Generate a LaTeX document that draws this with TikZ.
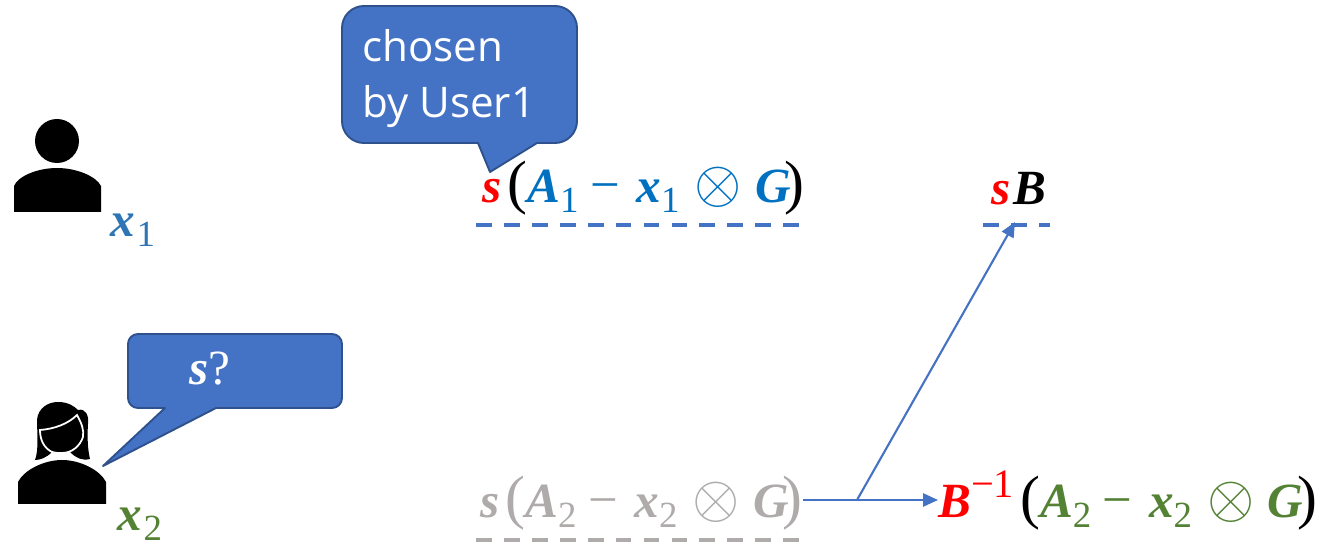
\documentclass[tikz,border=0pt]{standalone}
\usepackage{fontspec}
\setmainfont{Liberation Serif}
\newfontfamily\labelfont{Open Sans}
\usetikzlibrary{arrows.meta}

\definecolor{bubblefill}{HTML}{4472C4}
\definecolor{bubbleedge}{HTML}{2F528F}
\definecolor{userblue}{HTML}{0070C0}
\definecolor{labelblue}{HTML}{2E75B6}
\definecolor{usergreen}{HTML}{548235}
\definecolor{fadedgray}{HTML}{AFABAB}

\newcommand{\mv}[1]{\textbf{\textit{#1}}}
\newcommand{\idx}[1]{\raisebox{-0.2em}{\fontsize{21}{21}\selectfont #1}}
\newcommand{\opena}{\hspace{3.4pt}{\fontsize{34}{34}\selectfont (}}
\newcommand{\closea}{\hspace{-3.2pt}{\fontsize{34}{34}\selectfont )}}
\newcommand{\circtimes}{\hspace{8.5pt}\scalebox{1.39}{$\otimes$}\hspace{7.6pt}}
\newcommand{\minus}{\hspace{6.5pt}{\fontsize{30}{30}\selectfont −}\hspace{9.5pt}}
\newcommand{\invpow}{\raisebox{0.42em}{\fontsize{23}{23}\selectfont −1}}

\begin{document}
\begin{tikzpicture}[
    x=0.02cm, y=-0.02cm,
    formula/.style={inner sep=0pt, anchor=west, font=\fontsize{28}{28}\selectfont, text height=26pt, text depth=5.6pt},
    userlabel/.style={inner sep=0pt, anchor=base west, font=\fontsize{28}{28}\selectfont},
    bubble/.style={fill=bubblefill, draw=bubbleedge, line width=1.1pt, line join=round},
    bubbletext/.style={text=white, inner sep=0pt},
    rule/.style={line width=2pt, dash pattern=on 9pt off 6.9pt},
    link/.style={-{Triangle[length=8.5pt,width=7.5pt]}, draw=bubblefill, line width=1.2pt},
]

% Keep the proportions of the page
\useasboundingbox (0,0) rectangle (1326,543);

% User 1
\fill (57,141) circle (22);
\fill (14,212) -- (14,186) .. controls (18,176) and (38,168) .. (57,168)
    .. controls (76,168) and (96,176) .. (101,186) -- (101,212) -- cycle;
\node[userlabel, text=labelblue] (xone) at (110,237) {\mv{x}\hspace{1pt}\idx{1}};

% User 2
\fill (35,460) .. controls (39,450) and (37,430) .. (37,420)
    .. controls (38,408) and (48,402) .. (58,402)
    .. controls (68,402) and (74,406) .. (78,410)
    .. controls (86,408) and (89,416) .. (88,424)
    .. controls (87,440) and (88,450) .. (90,459)
    .. controls (82,461) and (76,458) .. (70,452) -- (52,452)
    .. controls (46,458) and (40,460) .. (35,460) -- cycle;
\draw[white, line width=1pt] (52,452) .. controls (44,448) and (40,440) .. (40,430)
    .. controls (54,429) and (68,424) .. (77,415)
    .. controls (82,424) and (84,430) .. (83,437)
    .. controls (80,446) and (72,453) .. (62,453)
    .. controls (58,453) and (55,453) .. (52,452);
\fill (18,504) -- (18,482) .. controls (24,470) and (44,460) .. (62,460)
    .. controls (80,460) and (100,470) .. (106,482) -- (106,504) -- cycle;
\node[userlabel, text=usergreen] (xtwo) at (117,531) {\mv{x}\hspace{1pt}\idx{2}};

% Speech bubbles
\draw[bubble, rounded corners=12.5pt] (420,6) -- (577,6) -- (577,143) [sharp corners] -- (537,143)
    -- (490,172) -- (478,143) [rounded corners=12.5pt] -- (342,143) -- (342,6) -- (420,6);
\node[bubbletext, anchor=north west, align=left, font=\labelfont\fontsize{24}{32}\selectfont] (chosen) at (362,29) {chosen\\by User1};
\draw[bubble, rounded corners=5.7pt] (240,334) -- (342,334) -- (342,408) [sharp corners] -- (216,408)
    -- (103,466) -- (165,408) [rounded corners=5.7pt] -- (128,408) -- (128,334) -- (240,334);
\node[bubbletext, anchor=base west, font=\fontsize{28}{28}\selectfont] (guess) at (189,385) {\mv{s}?};

% Formulas
\node[formula] (userone) at (482,185) {\textcolor{red}{\mv{s}}\opena\textcolor{userblue}{\mv{A}\idx{1}\minus\mv{x}\idx{1}\circtimes\mv{G}}\closea};
\node[formula] (sb) at (991,187) {\textcolor{red}{\mv{s}}\hspace{1.5pt}\mv{B}};
\node[formula, text=fadedgray] (usertwo) at (480,500) {\mv{s}\opena\mv{A}\idx{2}\minus\mv{x}\idx{2}\circtimes\mv{G}\closea};
\node[formula] (invb) at (938,500) {\textcolor{red}{\mv{B}\invpow}\opena\textcolor{usergreen}{\mv{A}\idx{2}\minus\mv{x}\idx{2}\circtimes\mv{G}}\closea};

% Dashed rules
\draw[rule, draw=bubblefill] (476,225) -- (802,225);
\draw[rule, draw=bubblefill] (983,225) -- (1050,225);
\draw[rule, draw=fadedgray] (476,540) -- (802,540);

% Arrows
\coordinate (fork) at (857,500);
\coordinate (sbdash) at (1015,222);
\draw[link] (usertwo.east) -- (invb.west);
\draw[link] (fork) -- (sbdash);

\end{tikzpicture}
\end{document}
